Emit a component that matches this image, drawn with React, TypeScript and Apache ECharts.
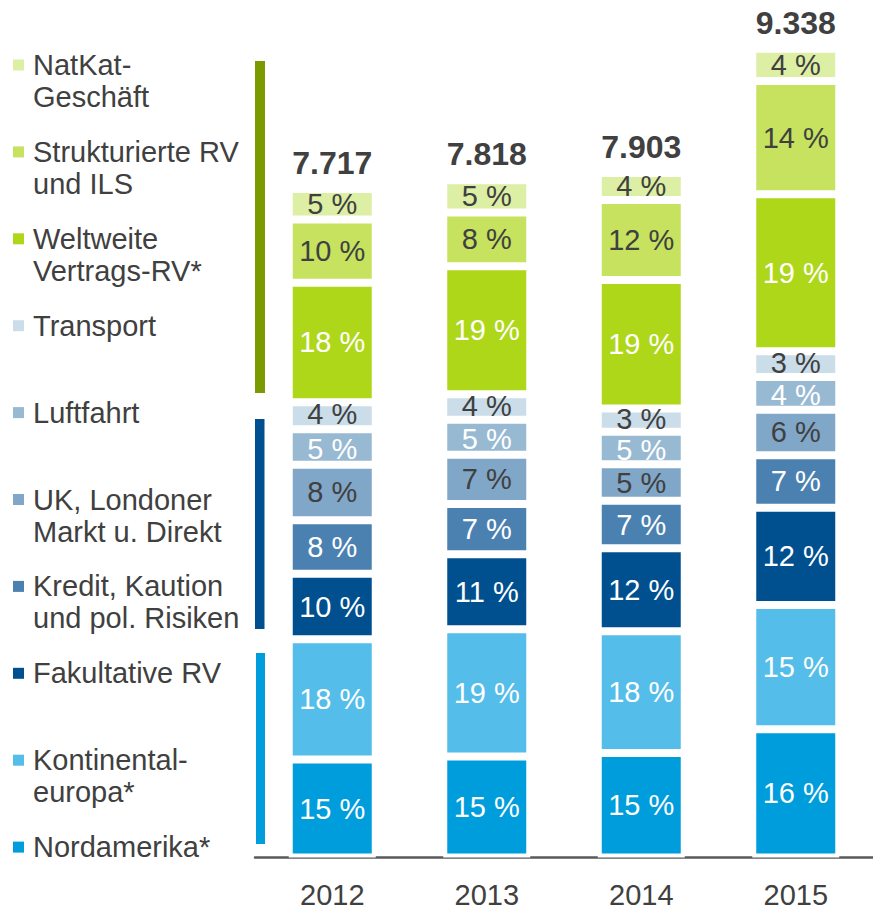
import React, { useEffect, useRef } from "react";
import * as echarts from "echarts";

// Categories
const years = ["2012", "2013", "2014", "2015"];
// Totals (EUR m) and their printed labels
const totals = [7717, 7818, 7903, 9338];
const totalLabels = ["7.717", "7.818", "7.903", "9.338"];

// Segment values (EUR m), bottom of stack to top
const nordamerika = [1130, 1165, 1207, 1481];
const kontinentaleuropa = [1390, 1470, 1406, 1435];
const fakultativeRV = [755, 867, 956, 1122];
const kreditKaution = [620, 580, 550, 607];
const ukLondon = [640, 567, 420, 524];
const luftfahrt = [410, 404, 375, 379];
const transport = [312, 294, 270, 298];
const weltweite = [1380, 1478, 1483, 1812];
const strukturierte = [730, 621, 924, 1306];
const natKat = [350, 372, 312, 374];

// Printed percentage labels
const pctNordamerika = [15, 15, 15, 16];
const pctKontinental = [18, 19, 18, 15];
const pctFakultative = [10, 11, 12, 12];
const pctKredit = [8, 7, 7, 7];
const pctUK = [8, 7, 5, 6];
const pctLuftfahrt = [5, 5, 5, 4];
const pctTransport = [4, 4, 3, 3];
const pctWeltweite = [18, 19, 19, 19];
const pctStrukturierte = [10, 8, 12, 14];
const pctNatKat = [5, 5, 4, 4];

const FONT = '"Liberation Sans", Arial, Helvetica, sans-serif';
const DARK = "#404040";

const seriesDefs = [
  { name: "Nordamerika*", data: nordamerika, pct: pctNordamerika, color: "#009ddd", text: "#ffffff", dy: 0 },
  { name: "Kontinental-\neuropa*", data: kontinentaleuropa, pct: pctKontinental, color: "#54bde9", text: "#ffffff", dy: 0 },
  { name: "Fakultative RV", data: fakultativeRV, pct: pctFakultative, color: "#004f8f", text: "#ffffff", dy: 0 },
  { name: "Kredit, Kaution\nund pol. Risiken", data: kreditKaution, pct: pctKredit, color: "#4b81b1", text: "#ffffff", dy: 0 },
  { name: "UK, Londoner\nMarkt u. Direkt", data: ukLondon, pct: pctUK, color: "#81a7c8", text: DARK, dy: 0 },
  { name: "Luftfahrt", data: luftfahrt, pct: pctLuftfahrt, color: "#98b9d2", text: "#ffffff", dy: 2 },
  { name: "Transport", data: transport, pct: pctTransport, color: "#cbdde9", text: DARK, dy: -1.5 },
  { name: "Weltweite\nVertrags-RV*", data: weltweite, pct: pctWeltweite, color: "#aed719", text: "#ffffff", dy: 0 },
  { name: "Strukturierte RV\nund ILS", data: strukturierte, pct: pctStrukturierte, color: "#c6e25f", text: DARK, dy: 0 },
  { name: "NatKat-\nGeschäft", data: natKat, pct: pctNatKat, color: "#ddefa4", text: DARK, dy: 0 },
];

export default function App() {
  const ref = useRef<HTMLDivElement>(null);

  useEffect(() => {
    if (!ref.current) return;
    const chart = echarts.init(ref.current, undefined, { renderer: "svg" });

    const barWidth = 87;

    const series: any[] = [
      {
        name: "Gesamt",
        type: "bar",
        data: totals,
        barWidth,
        barGap: "-100%",
        silent: true,
        z: 1,
        itemStyle: { color: "rgba(0,0,0,0)" },
        label: {
          show: true,
          position: "top",
          distance: 10,
          formatter: (p: any) => totalLabels[p.dataIndex],
          fontFamily: FONT,
          fontSize: 32,
          fontWeight: "bold",
          color: DARK,
        },
      },
      ...seriesDefs.map((s) => ({
        name: s.name,
        type: "bar",
        stack: "total",
        data: s.data,
        barWidth,
        barGap: "-100%",
        z: 2,
        itemStyle: { color: s.color, borderColor: "#ffffff", borderWidth: 4 },
        label: {
          show: true,
          position: "inside",
          offset: [0, s.dy],
          formatter: (p: any) => s.pct[p.dataIndex] + " %",
          fontFamily: FONT,
          fontSize: 29,
          lineHeight: 22,
          color: s.text,
        },
      })),
    ];

    // Legend drawn as graphic (top to bottom order)
    const legendItems = [...seriesDefs].reverse();
    const graphics: any[] = [];
    legendItems.forEach((s, i) => {
      const cy = 65 + i * 86.9;
      graphics.push({
        type: "rect",
        shape: { x: 13, y: cy - 5.5, width: 11, height: 11 },
        style: { fill: s.color },
      });
      graphics.push({
        type: "text",
        x: 33,
        y: cy - 16,
        style: {
          text: s.name,
          fill: DARK,
          fontFamily: FONT,
          fontSize: 29,
          lineHeight: 32,
          verticalAlign: "top",
          align: "left",
        },
      });
    });
    // group brackets
    graphics.push({ type: "rect", shape: { x: 255, y: 61, width: 10, height: 332 }, style: { fill: "#7b9a00" } });
    graphics.push({ type: "rect", shape: { x: 255, y: 419, width: 9.5, height: 210 }, style: { fill: "#004f8f" } });
    graphics.push({ type: "rect", shape: { x: 256, y: 653, width: 9, height: 191 }, style: { fill: "#009ddd" } });

    chart.setOption({
      animation: false,
      backgroundColor: "#ffffff",
      grid: { left: 255, width: 621, top: 0, bottom: 52.5, containLabel: false },
      xAxis: {
        type: "category",
        data: years,
        axisLine: { show: true, lineStyle: { color: "#595959", width: 2.5 } },
        axisTick: { show: false },
        axisLabel: { fontFamily: FONT, fontSize: 29, color: DARK, margin: 23 },
      },
      yAxis: {
        type: "value",
        min: 0,
        max: 9900,
        show: false,
        splitLine: { show: false },
      },
      graphic: graphics,
      series,
    });

    return () => chart.dispose();
  }, []);

  return (
    <div
      ref={ref}
      style={{ position: "absolute", left: 0, top: 0, width: 873, height: 910, background: "#fff" }}
    />
  );
}
